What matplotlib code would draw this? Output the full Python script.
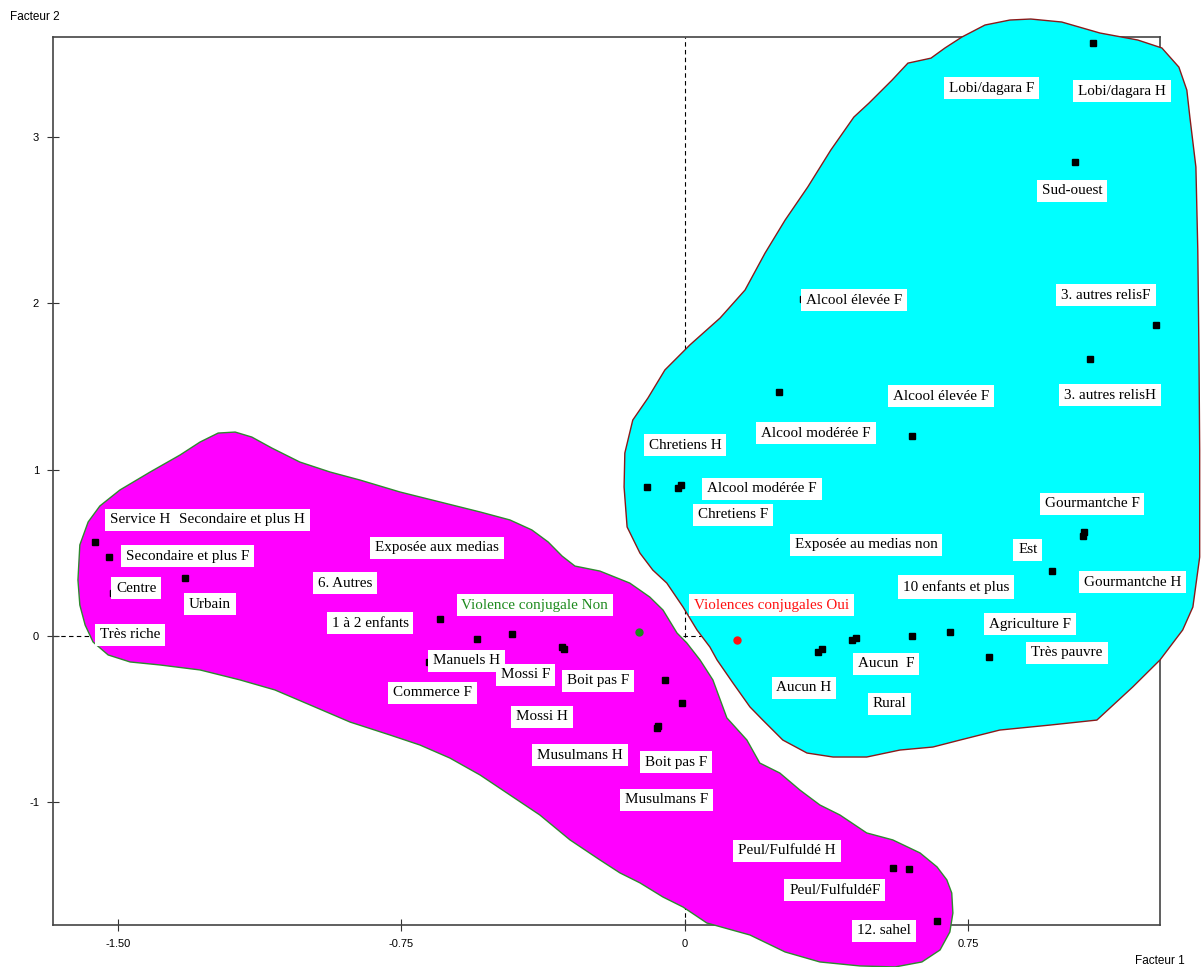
import matplotlib
matplotlib.use("Agg")
import matplotlib.pyplot as plt
from matplotlib.patches import Polygon

# --- modality coordinates (factor 1, factor 2) ---
group_a_x = [-1.561, -1.524, -1.513, -1.323, -0.648, -0.550, -0.458, -0.320, -0.325,
             -0.677, -0.053, -0.008, -0.074, -0.070, 0.550, 0.593, 0.667]
group_a_y = [0.565, 0.474, 0.258, 0.348, 0.102, -0.018, 0.012, -0.078, -0.065,
             -0.156, -0.264, -0.402, -0.553, -0.540, -1.393, -1.399, -1.712]

group_b_x = [-0.100, -0.018, -0.010, 0.600, 0.352, 0.362, 0.442, 0.452, 0.600, 0.701,
             0.804, 1.053, 1.056, 0.971, 0.312, 1.246, 1.071, 0.249, 1.079, 1.032]
group_b_y = [0.895, 0.889, 0.905, 1.201, -0.096, -0.078, -0.024, -0.012, 0.000, 0.024,
             -0.126, 0.601, 0.625, 0.390, 2.024, 1.868, 1.664, 1.465, 3.562, 2.847]

violence_non = (-0.122, 0.024)
violence_oui = (0.137, -0.024)

# --- labels ---
labels = ["Service H", "Secondaire et plus H", "Secondaire et plus F", "Centre", "Urbain",
          "Très riche", "Exposée aux medias", "6. Autres", "1 à 2 enfants",
          "Manuels H", "Mossi F", "Commerce F", "Boit pas F", "Mossi H", "Musulmans H",
          "Boit pas F", "Musulmans F", "Peul/Fulfuldé H", "Peul/FulfuldéF", "12. sahel",
          "Lobi/dagara F", "Lobi/dagara H", "Sud-ouest", "Alcool élevée F", "3. autres relisF",
          "3. autres relisH", "Alcool élevée F", "Alcool modérée F", "Chretiens H",
          "Alcool modérée F", "Chretiens F", "Exposée au medias non", "Gourmantche F", "Est",
          "Gourmantche H", "10 enfants et plus", "Agriculture F", "Très pauvre", "Aucun  F",
          "Aucun H", "Rural"]
label_x = [-1.442, -1.172, -1.315, -1.452, -1.257, -1.468, -0.656, -0.899, -0.833,
           -0.577, -0.421, -0.667, -0.230, -0.378, -0.278, -0.024, -0.048, 0.270, 0.397, 0.526,
           0.812, 1.156, 1.024, 0.447, 1.114, 1.124, 0.677, 0.347, 0.000, 0.204, 0.127, 0.479,
           1.077, 0.907, 1.185, 0.717, 0.913, 1.011, 0.532, 0.315, 0.542]
label_y = [0.697, 0.697, 0.480, 0.288, 0.192, 0.006, 0.529, 0.318, 0.078,
           -0.150, -0.234, -0.342, -0.270, -0.486, -0.715, -0.757, -0.985, -1.291, -1.526, -1.772,
           3.291, 3.273, 2.673, 2.018, 2.048, 1.447, 1.441, 1.219, 1.147, 0.883, 0.727, 0.547,
           0.793, 0.517, 0.324, 0.294, 0.072, -0.102, -0.168, -0.312, -0.408]

non_label = ("Violence conjugale Non", -0.397, 0.186)
oui_label = ("Violences conjugales Oui", 0.230, 0.186)

# --- class regions (outline vertices) ---
region_a = [(-1.606, 0.336), (-1.601, 0.547), (-1.579, 0.685), (-1.548, 0.781), (-1.495, 0.877),
            (-1.415, 0.985), (-1.336, 1.087), (-1.283, 1.165), (-1.235, 1.219), (-1.190, 1.225),
            (-1.146, 1.195), (-1.093, 1.129), (-1.019, 1.045), (-0.939, 0.985), (-0.860, 0.937),
            (-0.754, 0.865), (-0.648, 0.805), (-0.542, 0.745), (-0.463, 0.697), (-0.405, 0.637),
            (-0.362, 0.565), (-0.325, 0.480), (-0.291, 0.420), (-0.225, 0.390), (-0.146, 0.318),
            (-0.093, 0.234), (-0.058, 0.156), (-0.021, 0.018), (0.005, -0.042), (0.040, -0.144),
            (0.074, -0.264), (0.111, -0.492), (0.164, -0.625), (0.198, -0.763), (0.251, -0.823),
            (0.304, -0.925), (0.357, -1.015), (0.410, -1.075), (0.481, -1.183), (0.550, -1.225),
            (0.622, -1.303), (0.667, -1.387), (0.693, -1.465), (0.706, -1.544), (0.709, -1.664),
            (0.701, -1.778), (0.675, -1.886), (0.627, -1.958), (0.556, -1.988), (0.463, -1.982),
            (0.357, -1.958), (0.265, -1.898), (0.172, -1.796), (0.058, -1.724), (-0.005, -1.628),
            (-0.058, -1.568), (-0.119, -1.483), (-0.172, -1.423), (-0.225, -1.345), (-0.304, -1.225),
            (-0.384, -1.075), (-0.463, -0.955), (-0.542, -0.835), (-0.622, -0.733), (-0.701, -0.655),
            (-0.780, -0.595), (-0.886, -0.517), (-0.992, -0.414), (-1.085, -0.324), (-1.177, -0.264),
            (-1.283, -0.204), (-1.389, -0.174), (-1.468, -0.156), (-1.526, -0.114), (-1.566, -0.036),
            (-1.587, 0.066), (-1.601, 0.186)]

region_b = [(0.733, 3.598), (0.794, 3.670), (0.860, 3.700), (0.915, 3.706), (0.997, 3.688),
            (1.098, 3.622), (1.198, 3.580), (1.262, 3.532), (1.307, 3.417), (1.328, 3.279),
            (1.336, 3.117), (1.352, 2.817), (1.357, 2.318), (1.360, 1.718), (1.362, 1.117),
            (1.362, 0.474), (1.344, 0.174), (1.317, 0.036), (1.257, -0.144), (1.185, -0.306),
            (1.090, -0.505), (0.966, -0.535), (0.833, -0.565), (0.728, -0.625), (0.656, -0.667),
            (0.569, -0.685), (0.481, -0.727), (0.392, -0.727), (0.323, -0.703), (0.259, -0.625),
            (0.206, -0.505), (0.172, -0.426), (0.127, -0.282), (0.085, -0.144), (0.066, -0.066),
            (0.032, 0.036), (-0.005, 0.174), (-0.048, 0.318), (-0.085, 0.396), (-0.119, 0.498),
            (-0.153, 0.655), (-0.161, 0.895), (-0.159, 1.099), (-0.138, 1.297), (-0.098, 1.429),
            (-0.053, 1.598), (0.013, 1.748), (0.093, 1.910), (0.159, 2.078), (0.212, 2.300),
            (0.265, 2.498), (0.325, 2.697), (0.386, 2.919), (0.447, 3.117), (0.487, 3.201),
            (0.548, 3.339), (0.590, 3.441), (0.651, 3.471), (0.688, 3.532)]

x_ticks = [-1.50, -0.75, 0.0, 0.75]
x_ticklabels = ["-1.50", "-0.75", "0", "0.75"]
y_ticks = [-1, 0, 1, 2, 3]
y_ticklabels = ["-1", "0", "1", "2", "3"]

serif = ["Liberation Serif", "DejaVu Serif"]
sans = ["Liberation Sans Narrow", "Liberation Sans", "DejaVu Sans"]

fig = plt.figure(figsize=(12.01, 9.67), dpi=100)
ax = fig.add_axes([53 / 1201, 1 - 925 / 967, (1160 - 53) / 1201, (925 - 37) / 967])
ax.set_xlim(-1.672, 1.257)
ax.set_ylim(-1.736, 3.598)

# origin cross-hair
ax.axvline(0, color="black", lw=0.8, ls=(0, (4, 3)), zorder=1)
ax.axhline(0, color="black", lw=0.8, ls=(0, (4, 3)), zorder=1)

ax.add_patch(Polygon(region_a, closed=True, facecolor="#FF00FF", edgecolor="#2E8B2E",
                     lw=1.0, zorder=3, clip_on=False))
ax.add_patch(Polygon(region_b, closed=True, facecolor="#00FFFF", edgecolor="#8B1A1A",
                     lw=1.0, zorder=3, clip_on=False))

ax.plot(group_a_x, group_a_y, "s", color="black", ms=4.5, zorder=4, clip_on=False)
ax.plot(group_b_x, group_b_y, "s", color="black", ms=4.5, zorder=4, clip_on=False)
ax.plot(*violence_non, "o", color="#1E8B1E", ms=5, zorder=4)
ax.plot(*violence_oui, "o", color="#FF1010", ms=5, zorder=4)

fs = 10.9
box = dict(facecolor="white", edgecolor="none", pad=3.5)
for t, lx, ly in zip(labels, label_x, label_y):
    ax.text(lx, ly, t, family=serif, fontsize=fs, ha="center", va="center",
            bbox=box, zorder=5, clip_on=False)
ax.text(non_label[1], non_label[2], non_label[0], family=serif, fontsize=fs, color="#1E8B1E",
        ha="center", va="center", bbox=box, zorder=5)
ax.text(oui_label[1], oui_label[2], oui_label[0], family=serif, fontsize=fs, color="#FF1010",
        ha="center", va="center", bbox=box, zorder=5)

ax.set_xticks(x_ticks)
ax.set_xticklabels(x_ticklabels, family=sans, fontsize=8)
ax.set_yticks(y_ticks)
ax.set_yticklabels(y_ticklabels, family=sans, fontsize=8)
ax.tick_params(direction="inout", length=8, width=0.8, color="#333333", pad=6)
for s in ax.spines.values():
    s.set_color("#444444")
    s.set_linewidth(1.2)

fig.text(10 / 1201, 1 - 17 / 967, "Facteur 2", family=sans, fontsize=8.5, va="center")
fig.text(1135 / 1201, 1 - 961 / 967, "Facteur 1", family=sans, fontsize=8.5, va="center")

fig.savefig("out.png", dpi=100, facecolor="white")
